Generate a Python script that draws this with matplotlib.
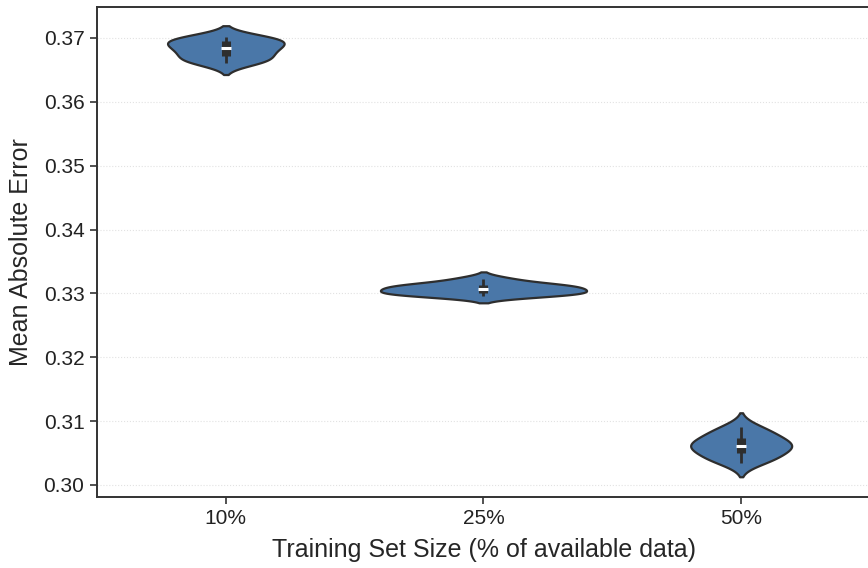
import matplotlib
matplotlib.use("Agg")
import matplotlib.pyplot as plt
from matplotlib.cbook import boxplot_stats
import numpy as np
import pandas as pd
import seaborn as sns

# MAE across repeated runs for each training set size
SIZE_LABELS = ["10%", "25%", "50%"]
MAE_10 = [0.3661, 0.3665, 0.3669, 0.3677, 0.3682, 0.3686, 0.3692, 0.3696, 0.3699, 0.3701]
MAE_25 = [0.3296, 0.3298, 0.3300, 0.3302, 0.3306, 0.3307, 0.3311, 0.3313, 0.3315, 0.3323]
MAE_50 = [0.3035, 0.3043, 0.3047, 0.3057, 0.3061, 0.3062, 0.3067, 0.3076, 0.3081, 0.3091]
Y_TICKS = [0.30, 0.31, 0.32, 0.33, 0.34, 0.35, 0.36, 0.37]

FILL = "#4A77A8"
EDGE = "#2E2E2E"

groups = [MAE_10, MAE_25, MAE_50]
df = pd.DataFrame({
    "size": np.repeat(SIZE_LABELS, [len(g) for g in groups]),
    "mae": np.concatenate(groups),
})

sns.set_style("ticks")
plt.rcParams["font.family"] = ["Liberation Sans", "DejaVu Sans"]

fig = plt.figure(figsize=(8.68, 5.68), dpi=100)
ax = fig.add_axes([97 / 868, 1 - 497 / 568, 773 / 868, 490 / 568])

sns.violinplot(
    data=df, x="size", y="mae", order=SIZE_LABELS,
    color=FILL, saturation=1, linecolor=EDGE, linewidth=1.6,
    density_norm="area", inner=None, width=0.8, ax=ax,
)

# inner box: whiskers, IQR bar and a white median dash
for i, vals in enumerate(groups):
    st = boxplot_stats(np.asarray(vals))[0]
    ax.plot([i, i], [st["whislo"], st["whishi"]], color=EDGE, lw=2.0,
            solid_capstyle="butt", zorder=3)
    ax.plot([i, i], [st["q1"], st["q3"]], color=EDGE, lw=6.5,
            solid_capstyle="butt", zorder=4)
    ax.plot([i], [st["med"]], marker="_", color="white", markersize=6.5,
            markeredgewidth=2.2, zorder=5)

ax.set_xlim(-0.5, 2.5)
ax.set_ylim(0.29812, 0.37485)
ax.set_yticks(Y_TICKS)
ax.set_yticklabels([f"{t:.2f}" for t in Y_TICKS])
ax.yaxis.grid(True, color="#E2E2E2", linestyle=":", linewidth=0.8)
ax.set_axisbelow(True)

ax.set_xlabel("Training Set Size (% of available data)", fontsize=18, labelpad=7)
ax.set_ylabel("Mean Absolute Error", fontsize=18, labelpad=8)
ax.tick_params(axis="both", labelsize=15, length=5, width=1.2, color="#333333",
               labelcolor="#222222", direction="out", pad=4)
for spine in ax.spines.values():
    spine.set_visible(True)
    spine.set_linewidth(1.4)
    spine.set_color("#333333")

fig.savefig("out.png", dpi=100)
